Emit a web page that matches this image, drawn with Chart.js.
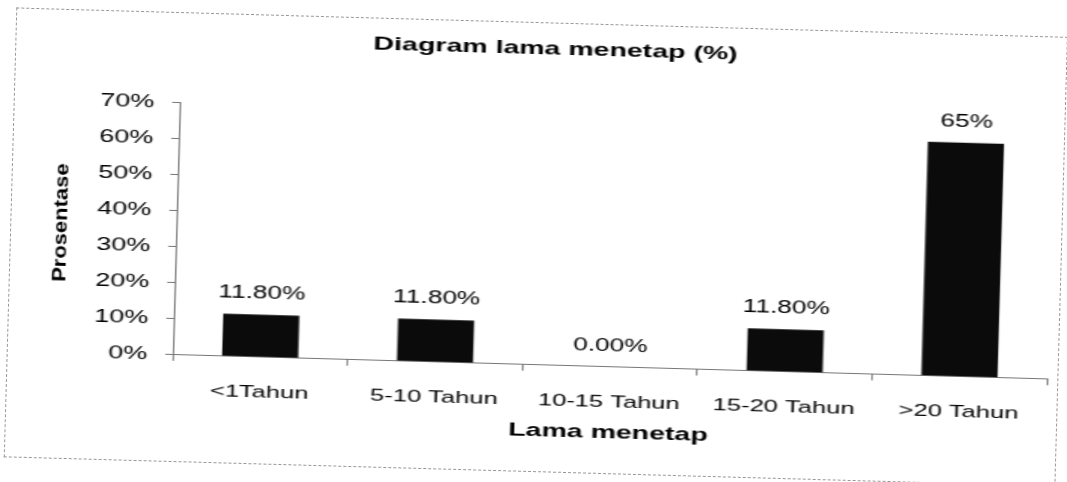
<!DOCTYPE html>
<html>
<head>
<meta charset="utf-8">
<script src="https://cdn.jsdelivr.net/npm/chart.js@4"></script>
<style>
  html, body { margin: 0; padding: 0; background: #fff; }
  /* hasil scan sedikit miring, jadi seluruh lembar diputar sedikit */
  #sheet { position: relative; width: 1067px; height: 482px; overflow: hidden; transform: rotate(1.6deg); transform-origin: 533px 241px; }
  #box { position: absolute; left: 10px; top: 22px; width: 1050px; height: 448px; border: 1px dashed #999; }
  /* huruf di scan terlihat melebar, jadi kanvas ditarik 1.5x secara horizontal */
  #plot { position: absolute; left: 0; top: 0; width: 700px; height: 448px; transform: scaleX(1.5); transform-origin: 0 0; }
</style>
</head>
<body>
<div id="sheet">
  <div id="box">
    <div id="plot"><canvas id="chart-lama"></canvas></div>
  </div>
</div>
<script>
// Data lama menetap
const kategori = ["<1Tahun", "5-10 Tahun", "10-15 Tahun", "15-20 Tahun", ">20 Tahun"];
const prosentase = [11.8, 11.8, 0, 11.8, 65];
const labelData = ["11.80%", "11.80%", "0.00%", "11.80%", "65%"];

const fontFam = '"Liberation Sans", Arial, sans-serif';

// angka di atas batang
const labelPlugin = {
  id: "labelBatang",
  afterDatasetsDraw: (chart) => {
    const ctx = chart.ctx;
    const meta = chart.getDatasetMeta(0);
    ctx.save();
    ctx.font = "17.5px " + fontFam;
    ctx.fillStyle = "#000";
    ctx.textAlign = "center";
    ctx.textBaseline = "alphabetic";
    meta.data.forEach((bar, i) => {
      ctx.fillText(labelData[i], bar.x, bar.y - 16);
    });
    ctx.restore();
  },
};

// judul sumbu y: hurufnya sempit, jadi dikompres kembali
const judulY = {
  id: "judulY",
  afterDraw: (chart) => {
    const ctx = chart.ctx;
    const area = chart.chartArea;
    ctx.save();
    ctx.translate(chart.scales.y.left + 7, (area.top + area.bottom) / 2 - 3);
    ctx.scale(0.6, 1);
    ctx.rotate(-Math.PI / 2);
    ctx.font = "bold 22px " + fontFam;
    ctx.fillStyle = "#000";
    ctx.textAlign = "center";
    ctx.textBaseline = "middle";
    ctx.fillText("Prosentase", 0, 0);
    ctx.restore();
  },
};

new Chart(document.getElementById("chart-lama"), {
  type: "bar",
  data: {
    labels: kategori,
    datasets: [{
      data: prosentase,
      backgroundColor: "#0b0b0b",
      borderWidth: 0,
      barPercentage: 0.435,
      categoryPercentage: 1,
    }],
  },
  options: {
    responsive: true,
    maintainAspectRatio: false,
    animation: false,
    layout: { padding: { left: 26, right: 7, top: 0, bottom: 25 } },
    plugins: {
      legend: { display: false },
      tooltip: { enabled: false },
      title: {
        display: true,
        text: "Diagram lama menetap (%)",
        color: "#000",
        font: { family: fontFam, size: 19, weight: "bold" },
        padding: { top: 14, bottom: 53 },
      },
    },
    scales: {
      x: {
        grid: { display: true, drawOnChartArea: false, tickLength: 6, color: "#777" },
        border: { display: true, color: "#777", width: 1 },
        ticks: {
          color: "#000",
          font: { family: fontFam, size: 17 },
          padding: 19,
          maxRotation: 0,
          autoSkip: false,
        },
        title: {
          display: true,
          text: "Lama menetap",
          color: "#000",
          font: { family: fontFam, size: 19, weight: "bold" },
          padding: { top: -10, bottom: 4 },
        },
      },
      y: {
        min: 0,
        max: 70,
        grid: { display: true, drawOnChartArea: false, tickLength: 5, color: "#777" },
        border: { display: true, color: "#777", width: 1 },
        ticks: {
          stepSize: 10,
          color: "#000",
          font: { family: fontFam, size: 18 },
          padding: 12,
          callback: (v) => v + "%",
        },
        afterFit: (scale) => { scale.width = 84; },
      },
    },
  },
  plugins: [labelPlugin, judulY],
});
</script>
</body>
</html>
